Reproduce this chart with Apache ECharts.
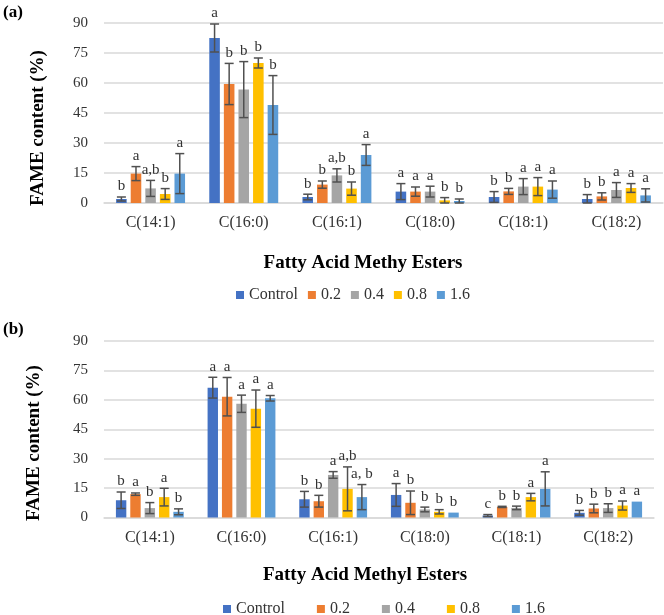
<!DOCTYPE html>
<html><head><meta charset="utf-8">
<script src="https://cdn.jsdelivr.net/npm/echarts@6/dist/echarts.min.js"></script>
<style>html,body{margin:0;padding:0;background:#fff}#c{width:664px;height:615px}</style>
</head><body><div id="c"></div>
<script>
var categories = ['C(14:1)','C(16:0)','C(16:1)','C(18:0)','C(18:1)','C(18:2)'];
var seriesNames = ['Control','0.2','0.4','0.8','1.6'];
var yTicks = [0,15,30,45,60,75,90];

// Panel (a)
var aControl = [2, 82.5, 3, 5.7, 3, 2];
var a02 = [14.7, 59.5, 9.2, 5.7, 5.8, 3.3];
var a04 = [7.3, 56.7, 13.8, 5.7, 8.2, 6.5];
var a08 = [4.5, 70, 7.2, 1.3, 8.2, 7.5];
var a16 = [14.7, 49, 24, 1, 6.7, 3.8];
var aControlErr = [1, 7, 1.4, 4, 2.7, 2.2];
var a02Err = [3.5, 10.3, 1.8, 2.3, 1.5, 1.8];
var a04Err = [4, 14, 3.3, 2.7, 4, 3.7];
var a08Err = [2.7, 2.5, 3.3, 1.4, 4.5, 2.2];
var a16Err = [10, 14.7, 5.2, 1, 4.3, 3.3];
var aControlSig = ['b','a','b','a','b','b'];
var a02Sig = ['a','b','b','a','b','b'];
var a04Sig = ['a,b','b','a,b','a','a','a'];
var a08Sig = ['b','b','b','b','a','a'];
var a16Sig = ['a','b','a','b','a','a'];

// Panel (b)
var bControl = [8.8, 66.2, 9.3, 11.5, 1, 2.4];
var b02 = [11.9, 61.6, 8.3, 7.5, 5.4, 4.6];
var b04 = [4.8, 58, 21.7, 4.1, 4.9, 4.8];
var b08 = [10.4, 55.5, 14.6, 2.9, 10.4, 6.1];
var b16 = [2.9, 60.8, 10.4, 2.5, 14.6, 8.1];
var bControlErr = [4.2, 5.3, 4, 5.8, 0.5, 1.2];
var b02Err = [0.6, 9.8, 3, 6, 0.3, 2.2];
var b04Err = [2.8, 4.4, 1.7, 1.2, 0.9, 2.2];
var b08Err = [4.5, 9.5, 11.2, 1.1, 1.9, 2.3];
var b16Err = [1.5, 1.4, 6.4, 0, 8.7, 0];
var bControlSig = ['b','a','b','a','c','b'];
var b02Sig = ['a','a','b','b','b','b'];
var b04Sig = ['b','a','a','b','b','b'];
var b08Sig = ['a','a','a,b','b','a','a'];
var b16Sig = ['b','a','a, b','b','a','a'];

var colors = ['#4472C4','#ED7D31','#A5A5A5','#FFC000','#5B9BD5'];
var FONT = '"Liberation Serif","Times New Roman",serif';
var CAT_GAP = 0.26, BAR_GAP = 0.38;

var panels = [
  {vals:[aControl,a02,a04,a08,a16], errs:[aControlErr,a02Err,a04Err,a08Err,a16Err], sigs:[aControlSig,a02Sig,a04Sig,a08Sig,a16Sig]},
  {vals:[bControl,b02,b04,b08,b16], errs:[bControlErr,b02Err,b04Err,b08Err,b16Err], sigs:[bControlSig,b02Sig,b04Sig,b08Sig,b16Sig]}
];

function axisPair(gi){
  return {
    x:{type:'category', gridIndex:gi, data:categories,
       axisLine:{show:true, lineStyle:{color:'#d9d9d9', width:1.5}},
       axisTick:{show:false},
       axisLabel:{fontFamily:FONT, fontSize:16, color:'#333', margin:12}},
    y:{type:'value', gridIndex:gi, min:0, max:90, interval:15,
       axisLine:{show:false}, axisTick:{show:false},
       splitLine:{lineStyle:{color:'#d9d9d9', width:1.5}},
       axisLabel:{fontFamily:FONT, fontSize:15, color:'#333', margin:16,
         formatter:function(v){return yTicks.indexOf(v)>=0? String(v):'';}}}
  };
}

var xAxes=[], yAxes=[], series=[];
[0,1].forEach(function(gi){
  var ap = axisPair(gi); xAxes.push(ap.x); yAxes.push(ap.y);
  var P = panels[gi];
  seriesNames.forEach(function(name, si){
    series.push({type:'bar', name:name, xAxisIndex:gi, yAxisIndex:gi,
      data:P.vals[si], barCategoryGap:(CAT_GAP*100)+'%', barGap:(BAR_GAP*100)+'%',
      itemStyle:{color:colors[si]}, silent:true});
  });
  seriesNames.forEach(function(name, si){
    var d = P.vals[si].map(function(v,ci){return [ci, v, P.errs[si][ci], P.sigs[si][ci]];});
    series.push({type:'custom', xAxisIndex:gi, yAxisIndex:gi, silent:true, z:5,
      data:d,
      renderItem:function(params, api){
        var ci = api.value(0), v = api.value(1), e = api.value(2);
        var sig = d[params.dataIndex][3];
        var catW = api.size([1,0])[0];
        var bw = catW*(1-CAT_GAP)/(5+4*BAR_GAP);
        var off = (si-2)*bw*(1+BAR_GAP);
        var c = api.coord([ci, v]);
        var x = c[0]+off;
        var top = api.coord([ci, v+e])[1];
        var bot = api.coord([ci, Math.max(0, v-e)])[1];
        var children = [];
        var st = {stroke:'#505050', lineWidth:1.5};
        if (e > 0) {
          children.push({type:'line', shape:{x1:x,y1:top,x2:x,y2:bot}, style:st});
          children.push({type:'line', shape:{x1:x-4.5,y1:top,x2:x+4.5,y2:top}, style:st});
          children.push({type:'line', shape:{x1:x-4.5,y1:bot,x2:x+4.5,y2:bot}, style:st});
        }
        children.push({type:'text', style:{text:sig, x:x, y:top-3, align:'center', verticalAlign:'bottom',
          font:'15px '+FONT, fill:'#333'}});
        return {type:'group', children:children};
      }
    });
  });
});

function txt(t, x, y, size, rot){
  return {type:'text', x:x, y:y, rotation:rot||0,
    style:{text:t, font:'bold '+size+'px '+FONT, fill:'#000', align:'center', verticalAlign:'middle'}};
}

var chart = echarts.init(document.getElementById('c'));
chart.setOption({
  animation:false,
  color:colors,
  grid:[
    {left:104, right:1, top:23, height:180, containLabel:false},
    {left:104, right:10, top:341, height:176.5, containLabel:false}
  ],
  xAxis:xAxes, yAxis:yAxes, series:series,
  legend:[
    {left:231, top:282, itemWidth:8, itemHeight:8, itemGap:10, icon:'rect', data:seriesNames,
     textStyle:{fontFamily:FONT, fontSize:16, color:'#333'}, selectedMode:false},
    {left:218, top:596, itemWidth:8, itemHeight:8, itemGap:32, icon:'rect', data:seriesNames,
     textStyle:{fontFamily:FONT, fontSize:16, color:'#333'}, selectedMode:false}
  ],
  graphic:[
    {type:'text', left:3, top:4, style:{text:'(a)', font:'bold 17px '+FONT, fill:'#000'}},
    {type:'text', left:3, top:321, style:{text:'(b)', font:'bold 17px '+FONT, fill:'#000'}},
    txt('FAME content (%)', 38, 128, 19, Math.PI/2),
    txt('FAME content (%)', 34, 443, 19, Math.PI/2),
    txt('Fatty Acid Methy Esters', 363, 263, 19),
    txt('Fatty Acid Methyl Esters', 365, 575, 19)
  ]
});
</script></body></html>
